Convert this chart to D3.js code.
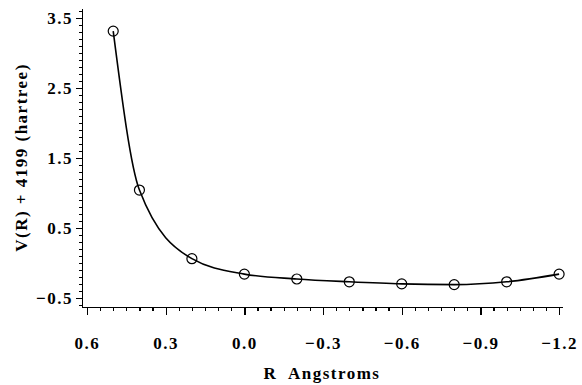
<!DOCTYPE html>
<meta charset="utf-8">
<style>
  body { margin: 0; background: #fff; }
  .axis path, .axis line { fill: none; stroke: #000; stroke-width: 1.3; shape-rendering: crispEdges; }
  .axis text { font-family: "Liberation Serif", serif; font-size: 17px; font-weight: bold; letter-spacing: 1.5px; fill: #000; }
  .label { font-family: "Liberation Serif", serif; font-size: 17px; font-weight: bold; letter-spacing: 1.5px; fill: #000; }
</style>
<body>
<div id="chart"></div>
<script src="https://d3js.org/d3.v7.min.js"></script>
<script>
  // distance R (Angstroms) and energy V(R) + 4199 (hartree)
  var rValues = [0.5, 0.4, 0.2, 0.0, -0.2, -0.4, -0.6, -0.8, -1.0, -1.2];
  var vValues = [3.31, 1.04, 0.06, -0.16, -0.23, -0.27, -0.30, -0.31, -0.27, -0.16];
  var xTicks = [0.6, 0.3, 0.0, -0.3, -0.6, -0.9, -1.2];
  var yTicks = [-0.5, 0.5, 1.5, 2.5, 3.5];

  var width = 582, height = 385;
  var plotLeft = 82, plotRight = 562, plotTop = 8, plotBottom = 307;

  var data = rValues.map(function (r, i) { return {r: r, v: vValues[i]}; });

  var x = d3.scaleLinear().domain([0.619, -1.211]).range([plotLeft, plotRight]);
  var y = d3.scaleLinear().domain([-0.63, 3.64]).range([plotBottom, plotTop]);

  var svg = d3.select("#chart").append("svg")
      .attr("width", width)
      .attr("height", height);

  // minor ticks
  svg.append("g")
      .attr("class", "axis")
      .attr("transform", "translate(0," + plotBottom + ")")
      .call(d3.axisBottom(x).tickValues(d3.range(-24, 13).map(function (k) { return k * 0.05; }))
        .tickSize(4).tickSizeOuter(0).tickFormat(""));

  svg.append("g")
      .attr("class", "axis")
      .attr("transform", "translate(" + plotLeft + ",0)")
      .call(d3.axisLeft(y).tickValues(d3.range(-6, 37).map(function (k) { return k * 0.1; }))
        .tickSize(3).tickSizeOuter(0).tickFormat(""));

  // major ticks
  svg.append("g")
      .attr("class", "axis")
      .attr("transform", "translate(0," + plotBottom + ")")
      .call(d3.axisBottom(x).tickValues(xTicks).tickSize(8).tickSizeOuter(0)
        .tickPadding(22).tickFormat(d3.format(".1f")));

  svg.append("g")
      .attr("class", "axis")
      .attr("transform", "translate(" + plotLeft + ",0)")
      .call(d3.axisLeft(y).tickValues(yTicks).tickSize(6).tickSizeOuter(0)
        .tickPadding(3).tickFormat(d3.format(".1f")));

  var line = d3.line()
      .x(function (d) { return x(d.r); })
      .y(function (d) { return y(d.v); })
      .curve(d3.curveMonotoneX);

  svg.append("path")
      .datum(data)
      .attr("d", line)
      .attr("fill", "none")
      .attr("stroke", "#000")
      .attr("stroke-width", 1.6);

  svg.selectAll("circle")
      .data(data)
      .enter().append("circle")
      .attr("cx", function (d) { return x(d.r); })
      .attr("cy", function (d) { return y(d.v); })
      .attr("r", 5)
      .attr("fill", "none")
      .attr("stroke", "#000")
      .attr("stroke-width", 1.2);

  svg.append("text")
      .attr("class", "label")
      .attr("x", (plotLeft + plotRight) / 2)
      .attr("y", 379)
      .attr("text-anchor", "middle")
      .attr("xml:space", "preserve")
      .text("R  Angstroms");

  svg.append("text")
      .attr("class", "label")
      .attr("transform", "translate(27," + (plotTop + plotBottom) / 2 + ") rotate(-90)")
      .attr("text-anchor", "middle")
      .text("V(R) + 4199 (hartree)");
</script>
</body>
